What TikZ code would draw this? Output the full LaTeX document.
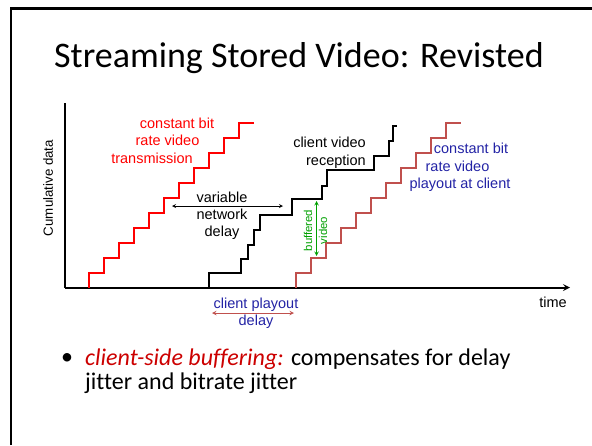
\documentclass[tikz,border=0pt]{standalone}
\usepackage{fontspec}
\setmainfont[Ligatures={NoCommon}]{Carlito}
\newfontfamily\lblfont{Liberation Sans}
\usetikzlibrary{arrows,positioning}
\definecolor{txred}{RGB}{255,0,0}
\definecolor{playred}{RGB}{192,80,77}
\definecolor{lblblue}{RGB}{35,35,165}
\definecolor{bufgreen}{RGB}{0,160,0}
\definecolor{keyred}{RGB}{204,0,0}

\begin{document}
\begin{tikzpicture}[
    x=1pt, y=-1pt, >=stealth,
    stair/.style={line width=2pt, line join=miter},
    lbl/.style={inner sep=0pt, anchor=base, font=\lblfont\fontsize{14.5}{17.4}\selectfont},
    tiny/.style={inner sep=0pt, font=\lblfont\fontsize{11.4}{15}\selectfont},
    slide/.style={inner sep=0pt, anchor=base west}
]
\useasboundingbox (0,0) rectangle (592,445);

% Slide frame and title
\draw[line width=2.5pt] (11,445) |- (592,8.5);
\node[slide, font=\fontsize{36}{40}\selectfont] (title) at (54,67) {Streaming Stored Video: Revisted};

% Axes
\coordinate (origin) at (64.5,287.5);
\coordinate (ytop) at (64.5,103);
\coordinate (xend) at (570,287.5);
\draw[line width=2pt] (ytop) -- (origin);
\draw[line width=2pt, ->] (origin) -- (xend);
\node[lbl] (time) at (553,307) {time};
\node[inner sep=0pt, rotate=90, font=\lblfont\fontsize{13.3}{16}\selectfont] (cumul) at (48,188) {Cumulative data};

% Constant bit rate transmission
\draw[stair, txred] (89,287.5) foreach \k in {0,...,10} { |- ++(15,-15) };
\node[lbl, text=txred] (txa) at (177,128) {constant bit};
\node[lbl, text=txred] (txb) at (167.5,145.5) {rate video};
\node[lbl, text=txred] (txc) at (152,163) {transmission};

% Client reception
\draw[stair] (209,287.5) -- (209,273) -| (241,259) -| (248,245) -| (254,230) -| (260,215)
    -| (292,199) -| (322,186) -| (327,170) -| (374,156) -| (389,141) -| (393,126) -- (397,126);
\node[lbl, anchor=base east, align=right, font=\lblfont\fontsize{14.5}{18}\selectfont] (recv) at (366,165) {client video\\reception};

% Network delay
\coordinate (dl) at (172,206);
\coordinate (dr) at (283,206);
\draw[<->, line width=0.8pt] (dl) -- (dr);
\node[lbl, align=center, font=\lblfont\fontsize{14.5}{17}\selectfont] (netdelay) at (222,236) {variable\\network\\delay};

% Constant bit rate playout
\draw[stair, playred] (296,287.5) foreach \k in {0,...,10} { |- ++(15,-15) };
\node[lbl, text=lblblue] (pba) at (471,153) {constant bit};
\node[lbl, text=lblblue] (pbb) at (457.5,171) {rate video};
\node[lbl, text=lblblue] (pbc) at (460,188) {playout at client};

% Buffered video
\coordinate (buftop) at (316.5,201);
\coordinate (bufbot) at (316.5,256);
\draw[<->, bufgreen, line width=1pt] (buftop) -- (bufbot);
\node[tiny, text=bufgreen, rotate=90, align=center] (buf) at (315.5,230.5) {buffered\\video};

% Playout delay
\coordinate (pl) at (212,313);
\coordinate (pr) at (294,313);
\draw[<->, playred, line width=1pt] (pl) -- (pr);
\node[lbl, text=lblblue, align=center] (pdelay) at (256,325.4) {client playout\\delay};

% Bullet point
\node[slide, anchor=base, font=\fontsize{24}{24}\selectfont] (dot) at (67,364) {\textbullet};
\node[slide, align=left, font=\fontsize{24}{24}\selectfont] (point) at (85,389)
    {\textcolor{keyred}{\textit{client-side buffering:}} compensates for delay\\jitter and bitrate jitter};

\end{tikzpicture}
\end{document}
